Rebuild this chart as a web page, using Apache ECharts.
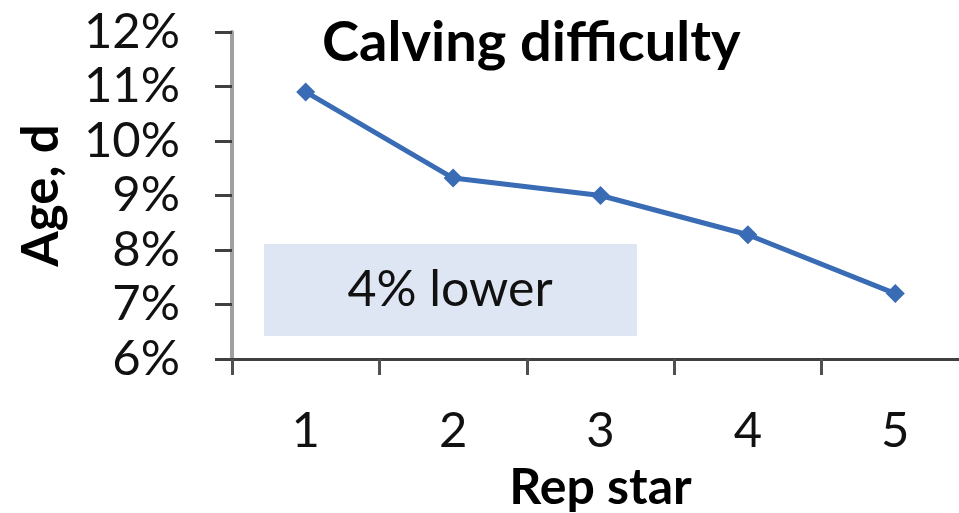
<!DOCTYPE html>
<html>
<head>
<meta charset="utf-8">
<script src="https://cdn.jsdelivr.net/npm/echarts@6/dist/echarts.min.js"></script>
<style>html,body{margin:0;padding:0;background:#fff}#c{width:959px;height:513px}</style>
</head>
<body>
<div id="c"></div>
<script>
const categories = ['1', '2', '3', '4', '5'];
const calvingDifficulty = [10.9, 9.32, 9.0, 8.28, 7.2];
const yTicks = { min: 6, max: 12, interval: 1 };
const titleText = 'Calving difficulty';
const xName = 'Rep star';
const yName = 'Age, d';
const noteText = '4% lower';

const FONT = 'Lato';
const chart = echarts.init(document.getElementById('c'), null, { renderer: 'canvas' });
chart.setOption({
  animation: false,
  backgroundColor: '#ffffff',
  title: {
    text: titleText,
    left: 317, top: 10,
    textStyle: { fontFamily: FONT, fontWeight: 'bold', fontSize: 56, color: '#000' }
  },
  grid: { left: 232, top: 32, right: -10, bottom: 154, containLabel: false, outerBoundsMode: 'none' },
  xAxis: {
    type: 'category',
    data: categories,
    boundaryGap: true,
    name: xName,
    nameLocation: 'middle',
    nameGap: 104,
    nameTextStyle: { fontFamily: FONT, fontWeight: 'bold', fontSize: 50, color: '#000' },
    axisLine: { lineStyle: { color: '#404040', width: 3 } },
    axisTick: { show: true, length: 16, lineStyle: { color: '#505050', width: 3 } },
    axisLabel: { margin: 48, fontFamily: FONT, fontSize: 49, color: '#111' },
    splitLine: { show: false }
  },
  yAxis: {
    type: 'value',
    min: yTicks.min, max: yTicks.max, interval: yTicks.interval,
    name: yName,
    nameLocation: 'middle',
    nameRotate: 90,
    nameGap: 165,
    nameTextStyle: { fontFamily: FONT, fontWeight: 'bold', fontSize: 51, color: '#000' },
    axisLine: { show: true, lineStyle: { color: '#a0a0a0', width: 4 } },
    axisTick: { show: true, inside: false, length: 17, lineStyle: { color: '#404040', width: 3 } },
    axisLabel: { margin: 52, fontFamily: FONT, fontSize: 49, color: '#111', formatter: '{value}%' },
    splitLine: { show: false }
  },
  series: [{
    type: 'line',
    data: calvingDifficulty,
    symbol: 'diamond',
    symbolSize: 19,
    lineStyle: { color: '#3a6bb5', width: 5 },
    itemStyle: { color: '#3a6bb5' },
    z: 5
  }],
  graphic: [{
    type: 'group',
    left: 264, top: 244,
    children: [{
      type: 'rect',
      shape: { x: 0, y: 0, width: 373, height: 92 },
      style: { fill: '#dfe6f3' }
    }, {
      type: 'text',
      x: 186, y: 46,
      style: { text: noteText, fontFamily: FONT, fontSize: 50, fill: '#111', align: 'center', verticalAlign: 'middle' }
    }],
    z: 1
  }]
});
</script>
</body>
</html>
